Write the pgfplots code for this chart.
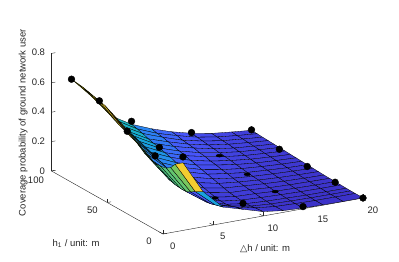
\documentclass[border=0pt]{standalone}
\usepackage{pgfplots}
\pgfplotsset{compat=1.18}
\usepackage{fontspec}
\setmainfont{Liberation Sans}
\newfontfamily\djf{DejaVu Sans}
\definecolor{axgray}{rgb}{0.15,0.15,0.15}
\pgfplotsset{colormap={parulaN}{rgb255=(60,50,200) rgb255=(71,85,250) rgb255=(45,130,245) rgb255=(20,170,215) rgb255=(35,190,165) rgb255=(130,200,85) rgb255=(240,185,60) rgb255=(250,250,20)}}
\begin{document}
\begin{tikzpicture}[x=1pt,y=1pt]
\path[use as bounding box] (0,0) rectangle (399,262);
\begin{axis}[
  at={(163pt,28pt)}, anchor=origin,
  disabledatascaling,
  x={(10pt,1.8pt)}, y={(-1.115pt,0.63pt)}, z={(0pt,147pt)},
  xmin=0,xmax=20,ymin=0,ymax=100,zmin=0,zmax=0.8,
  clip=false,
  axis lines=left, axis line style={-,color=axgray,line width=0.4pt},
  xtick={0,5,10,15,20}, ytick={0,50,100}, ztick={0,0.2,0.4,0.6,0.8},
  tick style={color=axgray,line width=0.4pt}, major tick length=4pt, tick align=inside,
  ticklabel style={font=\fontsize{9.5}{11}\selectfont, text=axgray},
  xticklabel style={xshift=5.5pt,yshift=-4.5pt},
  yticklabel style={xshift=-8pt},
  zticklabel style={xshift=-3pt,yshift=-1pt},
  /pgf/number format/assume math mode=true,
  label style={font=\fontsize{9.5}{11}\selectfont, text=axgray},
  xlabel={{\djf △}h / unit: m},
  ylabel={h\textsubscript{1} / unit: m},
  zlabel={Coverage probability of ground network user},
  xlabel style={at={(axis cs:10.2,0,-0.225)},anchor=center,rotate=0},
  ylabel style={at={(axis cs:0,78,-0.40)},anchor=center,rotate=0},
  zlabel style={at={(axis cs:0,125.5,0.22)},anchor=center,rotate=0},
  colormap name=parulaN, point meta min=0, point meta max=0.6,
]
\addplot3[surf,shader=flat corner,draw=black,line width=0.3pt,z buffer=none,mesh/cols=10,point meta=explicit]
 table[x=x,y=y,z=z,meta=c,row sep=\\]{
x y z c\\
20 100 .032 .032\\ 18 100 .045 .045\\ 16 100 .06 .06\\ 14 100 .085 .085\\ 12 100 .12 .12\\ 10 100 .165 .18\\ 8 100 .22 .30\\ 6 100 .30 .33\\ 4 100 .46 .60\\ 2 100 .60 .60\\
20 95 .03 .03\\ 18 95 .042 .042\\ 16 95 .057 .057\\ 14 95 .08 .08\\ 12 95 .115 .115\\ 10 95 .155 .17\\ 8 95 .21 .29\\ 6 95 .29 .32\\ 4 95 .445 .59\\ 2 95 .595 .595\\
20 90 .028 .028\\ 18 90 .04 .04\\ 16 90 .053 .053\\ 14 90 .075 .075\\ 12 90 .105 .105\\ 10 90 .15 .165\\ 8 90 .20 .28\\ 6 90 .275 .30\\ 4 90 .43 .58\\ 2 90 .59 .59\\
20 85 .026 .026\\ 18 85 .037 .037\\ 16 85 .05 .05\\ 14 85 .07 .07\\ 12 85 .10 .10\\ 10 85 .14 .155\\ 8 85 .185 .26\\ 6 85 .26 .29\\ 4 85 .41 .57\\ 2 85 .58 .58\\
20 80 .024 .024\\ 18 80 .034 .034\\ 16 80 .046 .046\\ 14 80 .065 .065\\ 12 80 .095 .095\\ 10 80 .13 .143\\ 8 80 .175 .245\\ 6 80 .25 .275\\ 4 80 .39 .56\\ 2 80 .57 .57\\
20 75 .022 .022\\ 18 75 .031 .031\\ 16 75 .042 .042\\ 14 75 .06 .06\\ 12 75 .085 .085\\ 10 75 .12 .132\\ 8 75 .165 .23\\ 6 75 .235 .26\\ 4 75 .37 .55\\ 2 75 .56 .56\\
20 70 .02 .02\\ 18 70 .028 .028\\ 16 70 .038 .038\\ 14 70 .055 .055\\ 12 70 .08 .08\\ 10 70 .11 .121\\ 8 70 .155 .215\\ 6 70 .22 .24\\ 4 70 .355 .54\\ 2 70 .55 .55\\
20 65 .018 .018\\ 18 65 .025 .025\\ 16 65 .034 .034\\ 14 65 .05 .05\\ 12 65 .07 .07\\ 10 65 .10 .11\\ 8 65 .145 .20\\ 6 65 .205 .225\\ 4 65 .335 .52\\ 2 65 .53 .53\\
20 60 .016 .016\\ 18 60 .022 .022\\ 16 60 .03 .03\\ 14 60 .044 .044\\ 12 60 .065 .065\\ 10 60 .09 .10\\ 8 60 .13 .18\\ 6 60 .19 .21\\ 4 60 .32 .50\\ 2 60 .51 .51\\
20 55 .014 .014\\ 18 55 .019 .019\\ 16 55 .027 .027\\ 14 55 .038 .038\\ 12 55 .055 .055\\ 10 55 .08 .088\\ 8 55 .12 .165\\ 6 55 .175 .19\\ 4 55 .30 .48\\ 2 55 .49 .49\\
20 50 .012 .012\\ 18 50 .016 .016\\ 16 50 .024 .024\\ 14 50 .033 .033\\ 12 50 .05 .05\\ 10 50 .07 .077\\ 8 50 .11 .15\\ 6 50 .16 .176\\ 4 50 .28 .46\\ 2 50 .46 .46\\
20 45 .01 .01\\ 18 45 .014 .014\\ 16 45 .02 .02\\ 14 45 .028 .028\\ 12 45 .04 .04\\ 10 45 .06 .06\\ 8 45 .095 .095\\ 6 45 .14 .14\\ 4 45 .255 .43\\ 2 45 .44 .44\\
20 40 .008 .008\\ 18 40 .011 .011\\ 16 40 .016 .016\\ 14 40 .024 .024\\ 12 40 .035 .035\\ 10 40 .05 .05\\ 8 40 .08 .08\\ 6 40 .125 .125\\ 4 40 .23 .40\\ 2 40 .41 .41\\
20 35 .006 .006\\ 18 35 .009 .009\\ 16 35 .013 .013\\ 14 35 .02 .02\\ 12 35 .03 .03\\ 10 35 .04 .04\\ 8 35 .065 .065\\ 6 35 .11 .11\\ 4 35 .21 .38\\ 2 35 .38 .38\\
20 30 .005 .005\\ 18 30 .007 .007\\ 16 30 .01 .01\\ 14 30 .015 .015\\ 12 30 .025 .025\\ 10 30 .03 .03\\ 8 30 .055 .055\\ 6 30 .095 .095\\ 4 30 .19 .37\\ 2 30 .36 .36\\
20 25 .004 .004\\ 18 25 .005 .005\\ 16 25 .008 .008\\ 14 25 .012 .012\\ 12 25 .02 .02\\ 10 25 .025 .025\\ 8 25 .045 .045\\ 6 25 .085 .085\\ 4 25 .18 .38\\ 2 25 .35 .35\\
20 20 .003 .003\\ 18 20 .004 .004\\ 16 20 .006 .006\\ 14 20 .01 .01\\ 12 20 .015 .015\\ 10 20 .022 .022\\ 8 20 .04 .04\\ 6 20 .08 .08\\ 4 20 .175 .39\\ 2 20 .35 .35\\
20 15 .002 .002\\ 18 15 .003 .003\\ 16 15 .004 .004\\ 14 15 .008 .008\\ 12 15 .012 .012\\ 10 15 .02 .02\\ 8 15 .04 .04\\ 6 15 .08 .08\\ 4 15 .175 .40\\ 2 15 .36 .36\\
20 11 .001 .001\\ 18 11 .002 .002\\ 16 11 .003 .003\\ 14 11 .006 .006\\ 12 11 .01 .01\\ 10 11 .02 .02\\ 8 11 .045 .045\\ 6 11 .085 .085\\ 4 11 .19 .42\\ 2 11 .38 .38\\
20 7 .001 .001\\ 18 7 .001 .001\\ 16 7 .002 .002\\ 14 7 .005 .005\\ 12 7 .01 .01\\ 10 7 .025 .025\\ 8 7 .055 .055\\ 6 7 .095 .24\\ 4 7 .21 .54\\ 2 7 .42 .42\\
20 0 .001 .001\\ 18 0 .001 .001\\ 16 0 .002 .002\\ 14 0 .005 .005\\ 12 0 .012 .012\\ 10 0 .03 .03\\ 8 0 .07 .07\\ 6 0 .11 .11\\ 4 0 .24 .24\\ 2 0 .46 .46\\
};
\addplot3[only marks,mark=*,mark size=3.4pt,color=black] coordinates {
(2,100,0.60)(2,75,0.56)(2,50,0.46)(2,25,0.40)(2,0,0.50)
(8,100,0.24)(8,75,0.17)(8,0,0.11)
(14,100,0.09)(14,0,0.015)
(20,100,0.035)(20,75,0.01)(20,50,0)(20,25,0)(20,0,0)};
\addplot3[only marks,mark=*,mark size=3.2pt,color=black,mark options={yscale=0.45}] coordinates {
(8,25,0.04)(14,75,0.04)(14,50,0.02)(14,25,0.01)};
\end{axis}
\end{tikzpicture}
\end{document}
